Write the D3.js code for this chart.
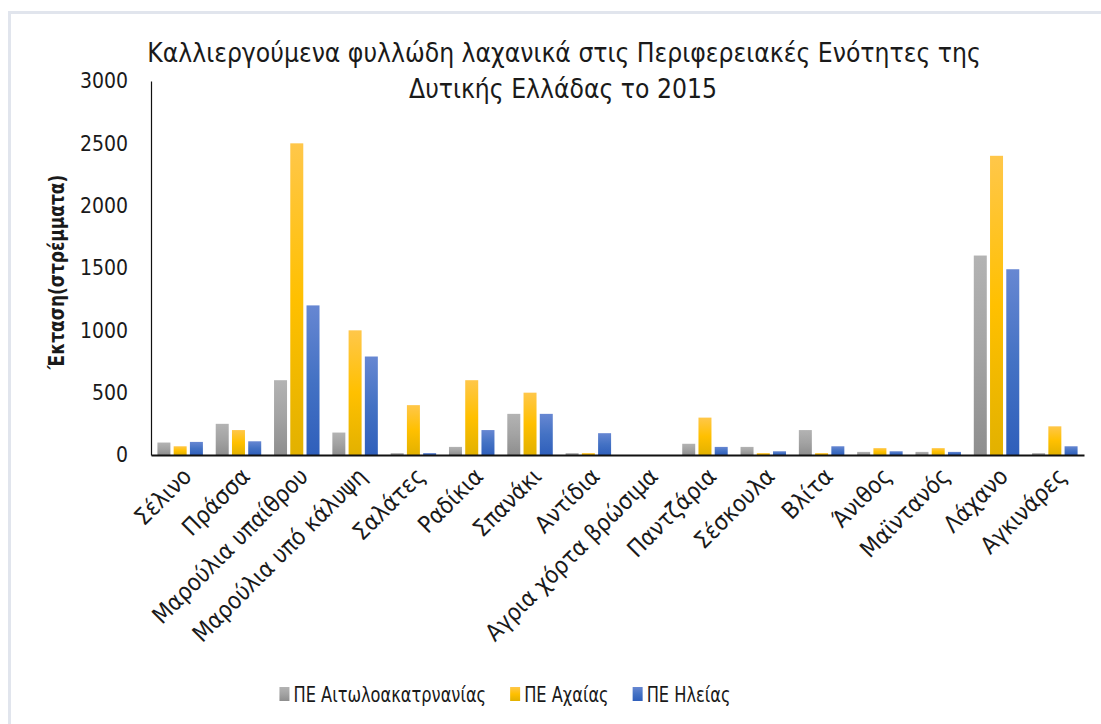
<!DOCTYPE html>
<html>
<head>
<meta charset="utf-8">
<script src="https://cdn.jsdelivr.net/npm/d3@7"></script>
<style>
  html, body { margin: 0; padding: 0; background: #fff; }
  svg { display: block; }
  text { font-family: "DejaVu Sans Condensed", "Liberation Sans", sans-serif; fill: #1a1a1a; }
</style>
</head>
<body>
<svg id="chart" width="1101" height="724"></svg>
<script>
// Leafy vegetables cultivated in the regional units of Western Greece, 2015 (stremmata)
const categories = [
  "Σέλινο", "Πράσσα", "Μαρούλια υπαίθρου", "Μαρούλια υπό κάλυψη", "Σαλάτες",
  "Ραδίκια", "Σπανάκι", "Αντίδια", "Αγρια χόρτα βρώσιμα", "Παντζάρια",
  "Σέσκουλα", "Βλίτα", "Άνιθος", "Μαϊντανός", "Λάχανο", "Αγκινάρες"
];
const seriesNames = ["ΠΕ Αιτωλοακατρνανίας", "ΠΕ Αχαίας", "ΠΕ Ηλείας"];
const aitoloakarnania = [100, 250, 600, 180, 15, 65, 330, 15, 0, 90, 65, 200, 25, 25, 1600, 15];
const achaia          = [70, 200, 2500, 1000, 400, 600, 500, 15, 0, 300, 15, 15, 55, 55, 2400, 230];
const ileia           = [105, 110, 1200, 790, 15, 200, 330, 175, 0, 65, 30, 70, 30, 25, 1490, 70];
const yTicks = [0, 500, 1000, 1500, 2000, 2500, 3000];
const titleLines = ["Καλλιεργούμενα φυλλώδη λαχανικά στις Περιφερειακές Ενότητες της", "Δυτικής Ελλάδας το 2015"];
const yTitle = "Έκταση(στρέμματα)";

const seriesValues = [aitoloakarnania, achaia, ileia];
const gradients = [
  ["#b3b3b3", "#a3a3a3", "#8e8e8e"],
  ["#ffc74a", "#ffc000", "#e2b100"],
  ["#6787d2", "#4472c4", "#2f5fbb"]
];

const svg = d3.select("#chart");
const W = 1101, H = 724;
const margin = { left: 151, right: 17, top: 81, bottom: 269 };
const plotW = W - margin.left - margin.right;
const plotH = H - margin.top - margin.bottom;

// squeeze a text horizontally to a fraction of its natural length
function squeeze(sel, factor) {
  sel.each(function () {
    const len = this.getComputedTextLength();
    d3.select(this).attr("textLength", len * factor).attr("lengthAdjust", "spacingAndGlyphs");
  });
}

// outer chart frame (top and left edges)
svg.append("line").attr("x1", 8).attr("x2", W).attr("y1", 12.5).attr("y2", 12.5)
  .attr("stroke", "#e1e5ed").attr("stroke-width", 3);
svg.append("line").attr("x1", 9.5).attr("x2", 9.5).attr("y1", 11).attr("y2", H)
  .attr("stroke", "#e1e5ed").attr("stroke-width", 3);

// gradients for bars and legend keys
const defs = svg.append("defs");
gradients.forEach((g, i) => {
  const lg = defs.append("linearGradient").attr("id", "grad" + i)
    .attr("x1", 0).attr("y1", 0).attr("x2", 0).attr("y2", 1);
  lg.append("stop").attr("offset", "0%").attr("stop-color", g[0]);
  lg.append("stop").attr("offset", "50%").attr("stop-color", g[1]);
  lg.append("stop").attr("offset", "100%").attr("stop-color", g[2]);
});

const x0 = d3.scaleBand().domain(categories).range([0, plotW]).paddingInner(0.22).paddingOuter(0.11);
const x1 = d3.scaleBand().domain(d3.range(3)).range([0, x0.bandwidth()]).paddingInner(0.2);
const y = d3.scaleLinear().domain([0, 3000]).range([plotH, 0]);

const g = svg.append("g").attr("transform", `translate(${margin.left},${margin.top})`);

// bars
const groups = g.selectAll("g.cat").data(categories).join("g")
  .attr("class", "cat")
  .attr("transform", d => `translate(${x0(d)},0)`);
groups.selectAll("rect").data((d, ci) => seriesValues.map((s, si) => ({ si, v: s[ci] })))
  .join("rect")
  .attr("x", d => x1(d.si))
  .attr("width", x1.bandwidth())
  .attr("y", d => y(d.v))
  .attr("height", d => plotH - y(d.v))
  .attr("fill", d => `url(#grad${d.si})`);

// y axis
const yAxis = g.append("g").call(d3.axisLeft(y).tickValues(yTicks).tickFormat(d3.format("d")).tickSize(0).tickPadding(23));
yAxis.select(".domain").attr("stroke", "#111").attr("stroke-width", 1.2);
yAxis.selectAll(".tick text").attr("font-size", 21).style("fill", "#1a1a1a");

// x axis
const xAxis = g.append("g").attr("transform", `translate(0,${plotH})`)
  .call(d3.axisBottom(x0).tickSize(0).tickPadding(0));
xAxis.select(".domain").attr("stroke", "#111").attr("stroke-width", 2);
xAxis.selectAll(".tick text")
  .attr("font-size", 23.5)
  .attr("text-anchor", "end")
  .attr("dy", "0.35em")
  .attr("transform", "translate(7,17) rotate(-45)")
  .style("fill", "#1a1a1a");

// y axis title
svg.append("text")
  .attr("transform", `translate(64,272) rotate(-90)`)
  .attr("text-anchor", "middle")
  .attr("font-size", 20.5)
  .attr("font-weight", "bold")
  .text(yTitle)
  .call(squeeze, 0.92);

// title, sized so the first line spans its intended width
const title = svg.append("g");
const t1 = title.append("text").attr("x", 564).attr("y", 62).attr("text-anchor", "middle").text(titleLines[0]);
const t2 = title.append("text").attr("x", 563).attr("y", 98).attr("text-anchor", "middle").text(titleLines[1]);
t1.attr("font-size", 20);
const fs = 20 * 834 / t1.node().getComputedTextLength();
t1.attr("font-size", fs);
t2.attr("font-size", fs);

// legend
const legend = svg.append("g");
const items = seriesNames.map((name, i) => {
  const it = legend.append("g");
  it.append("rect").attr("x", 0).attr("y", -15).attr("width", 10).attr("height", 14).attr("fill", `url(#grad${i})`);
  const tx = it.append("text").attr("x", 14).attr("y", 0).attr("font-size", 22).text(name);
  tx.call(squeeze, 0.82);
  return { it, w: 14 + +tx.attr("textLength") };
});
const gap = 24;
const total = d3.sum(items, d => d.w) + gap * (items.length - 1);
let lx = 505 - total / 2;
items.forEach(d => { d.it.attr("transform", `translate(${lx},702)`); lx += d.w + gap; });
</script>
</body>
</html>
